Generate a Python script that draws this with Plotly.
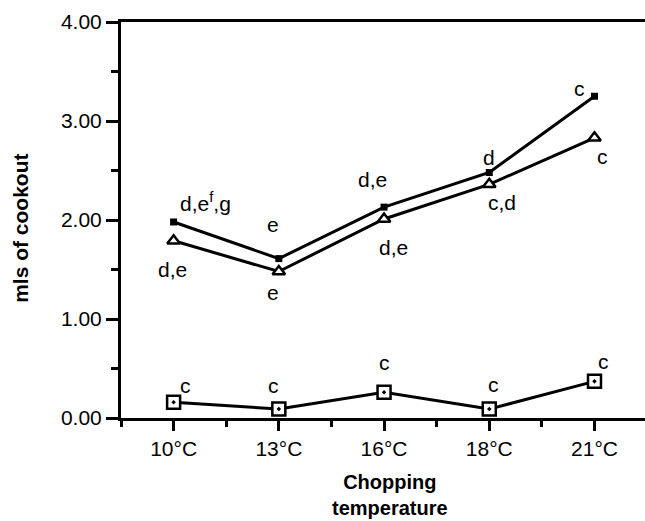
import plotly.graph_objects as go

categories = ["10°C", "13°C", "16°C", "18°C", "21°C"]
filled_sq = [1.98, 1.61, 2.13, 2.48, 3.25]
triangle = [1.79, 1.48, 2.01, 2.36, 2.83]
open_sq = [0.16, 0.09, 0.26, 0.09, 0.37]

filled_labels = ["d,e<sup>f</sup>,g", "e", "d,e", "d", "c"]
triangle_labels = ["d,e", "e", "d,e", "c,d", "c"]
open_labels = ["c", "c", "c", "c", "c"]

y_ticks = [0, 1, 2, 3, 4]
y_ticktext = ["0.00", "1.00", "2.00", "3.00", "4.00"]

FONT = "Liberation Sans, Arial, sans-serif"
xs = list(range(len(categories)))

fig = go.Figure()
line = dict(color="black", width=3)
fig.add_trace(go.Scatter(x=xs, y=filled_sq, mode="lines+markers", line=line,
                         marker=dict(symbol="square", size=7, color="black"),
                         showlegend=False, cliponaxis=False))
fig.add_trace(go.Scatter(x=xs, y=triangle, mode="lines+markers", line=line,
                         marker=dict(symbol="triangle-up", size=11, color="white",
                                     line=dict(color="black", width=2.5)),
                         showlegend=False, cliponaxis=False))
fig.add_trace(go.Scatter(x=xs, y=open_sq, mode="lines+markers", line=line,
                         marker=dict(symbol="square-dot", size=13, color="white",
                                     line=dict(color="black", width=2.5)),
                         showlegend=False, cliponaxis=False))

# label offsets (pixels) relative to each point
filled_off = [(4, 20, "left"), (-6, 34, "center"), (-12, 28, "center"), (0, 15, "center"), (-15, 8, "center")]
tri_off = [(-1, -29, "center"), (-6, -21, "center"), (9, -28, "center"), (13, -18, "center"), (8, -19, "center")]
open_off = [(12, 17, "center"), (-5, 24, "center"), (0, 30, "center"), (4, 25, "center"), (9, 20, "center")]

for vals, labs, offs in [(filled_sq, filled_labels, filled_off),
                         (triangle, triangle_labels, tri_off),
                         (open_sq, open_labels, open_off)]:
    for i, (v, t, (dx, dy, xa)) in enumerate(zip(vals, labs, offs)):
        fig.add_annotation(x=i, y=v, xref="x", yref="y", text=t, showarrow=False,
                           xshift=dx, yshift=dy, xanchor=xa, yanchor="middle",
                           font=dict(family=FONT, size=21, color="black"))

fig.add_annotation(x=0.513, y=-0.128, xref="paper", yref="paper",
                   text="<b>Chopping<br>temperature</b>", showarrow=False,
                   xanchor="center", yanchor="top",
                   font=dict(family=FONT, size=20, color="black"))
fig.add_annotation(x=-0.191, y=0.48, xref="paper", yref="paper",
                   text="<b>mls of cookout</b>", showarrow=False, textangle=-90,
                   xanchor="center", yanchor="middle",
                   font=dict(family=FONT, size=21, color="black"))

fig.update_layout(
    width=645, height=521,
    margin=dict(l=121, r=0, t=22, b=103),
    plot_bgcolor="white", paper_bgcolor="white",
    font=dict(family=FONT, size=21, color="black"),
    xaxis=dict(range=[-0.5, 4.48], tickvals=xs, ticktext=categories,
               showgrid=False, zeroline=False, showline=True, linecolor="black",
               linewidth=3, mirror=True, ticks="outside", ticklen=10, tickwidth=3,
               tickcolor="black",
               minor=dict(dtick=0.5, tick0=0, ticks="outside", ticklen=6,
                          tickwidth=3, tickcolor="black", showgrid=False),
               tickfont=dict(family=FONT, size=21)),
    yaxis=dict(range=[0, 4], tickvals=y_ticks, ticktext=y_ticktext,
               showgrid=False, zeroline=False, showline=True, linecolor="black",
               linewidth=3, ticks="outside", ticklen=12, tickwidth=3,
               tickcolor="black",
               minor=dict(dtick=0.5, tick0=0, ticks="outside", ticklen=7,
                          tickwidth=3, tickcolor="black", showgrid=False),
               tickfont=dict(family=FONT, size=21)),
)

fig.write_html("out.html")
